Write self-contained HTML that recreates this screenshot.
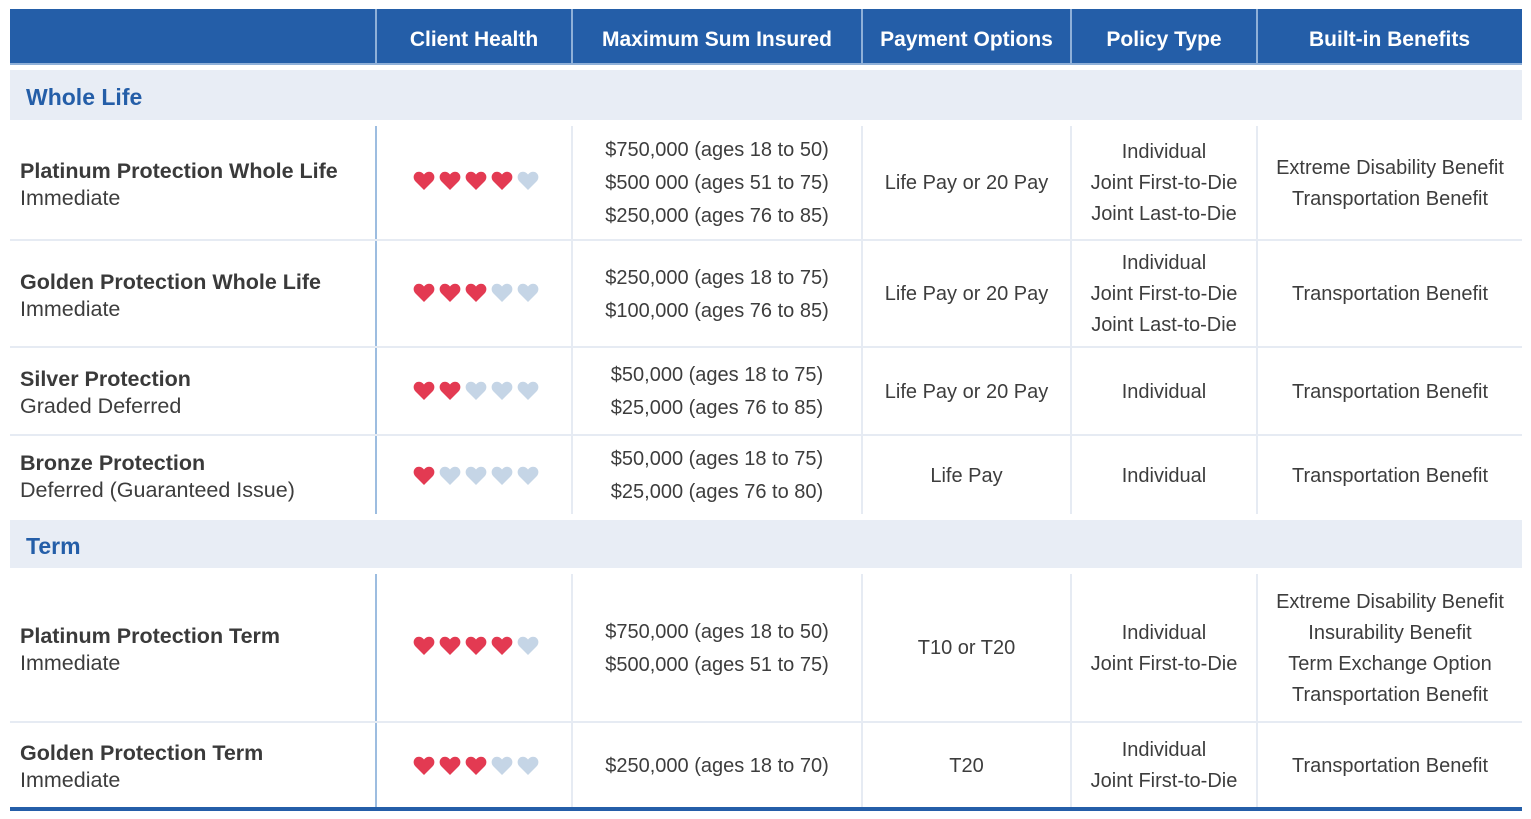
<!DOCTYPE html>
<html><head><meta charset="utf-8"><style>
body{margin:0;width:1531px;height:819px;background:#fff;position:relative;font-family:"Liberation Sans",sans-serif;color:#3d3d3d;overflow:hidden}
.a{position:absolute;box-sizing:border-box}
.hd{background:#245ea8;top:9px;height:56px;color:#fff;font-weight:bold;font-size:21px;display:flex;align-items:center;justify-content:center;border-bottom:2px solid #8fb0d8;padding-top:8px}
.band{background:#e8edf5;left:10px;width:1512px;color:#245ea8;font-weight:bold;font-size:23px;padding-left:16px;display:flex;align-items:center;padding-top:5px}
.c{display:flex;flex-direction:column;align-items:center;justify-content:center;text-align:center;font-size:20px;line-height:31px;padding-top:2px}
.c.s{line-height:33px}
.n{align-items:flex-start;text-align:left;padding-left:10px;line-height:27px;font-size:21.5px;padding-top:4px}
.n b{color:#3a3a3a}
.vl{width:2px;background:#e6ebf3}
.hl{height:2px;background:#e6ebf3;left:10px;width:1512px}
.vb{width:2px;background:#9dbde0}
.hv{width:2px;background:#8fb0d8;top:9px;height:56px}
</style></head><body>
<div class="a hd" style="left:10px;width:1512px"></div>
<div class="a hd" style="left:376px;width:196px;border:none;height:54px">Client Health</div>
<div class="a hd" style="left:572px;width:290px;border:none;height:54px">Maximum Sum Insured</div>
<div class="a hd" style="left:862px;width:209px;border:none;height:54px">Payment Options</div>
<div class="a hd" style="left:1071px;width:186px;border:none;height:54px">Policy Type</div>
<div class="a hd" style="left:1257px;width:265px;border:none;height:54px">Built-in Benefits</div>
<div class="a hv" style="left:375px"></div><div class="a hv" style="left:571px"></div><div class="a hv" style="left:861px"></div><div class="a hv" style="left:1070px"></div><div class="a hv" style="left:1256px"></div>

<div class="a band" style="top:70px;height:50px">Whole Life</div>
<div class="a band" style="top:520px;height:48px">Term</div>

<div class="a vb" style="left:375px;top:126px;height:388px"></div>
<div class="a vb" style="left:375px;top:574px;height:233px"></div>
<div class="a vl" style="left:571px;top:126px;height:388px"></div><div class="a vl" style="left:571px;top:574px;height:233px"></div>
<div class="a vl" style="left:861px;top:126px;height:388px"></div><div class="a vl" style="left:861px;top:574px;height:233px"></div>
<div class="a vl" style="left:1070px;top:126px;height:388px"></div><div class="a vl" style="left:1070px;top:574px;height:233px"></div>
<div class="a vl" style="left:1256px;top:126px;height:388px"></div><div class="a vl" style="left:1256px;top:574px;height:233px"></div>
<div class="a hl" style="top:239px"></div><div class="a hl" style="top:346px"></div><div class="a hl" style="top:434px"></div><div class="a hl" style="top:721px"></div>
<div class="a" style="left:10px;top:807px;width:1512px;height:4px;background:#245ea8"></div>

<svg width="0" height="0" style="position:absolute"><defs><path id="h" d="M11 20 L2.5 11.5 C0 9 0 5 2.5 3 C5 1 8.5 1.5 11 4.5 C13.5 1.5 17 1 19.5 3 C22 5 22 9 19.5 11.5 Z"/></defs></svg>

<div class="a c n" style="left:10px;top:126px;width:365px;height:113px"><b>Platinum Protection Whole Life</b>Immediate</div>
<div class="a c n" style="left:10px;top:241px;width:365px;height:105px"><b>Golden Protection Whole Life</b>Immediate</div>
<div class="a c n" style="left:10px;top:348px;width:365px;height:86px"><b>Silver Protection</b>Graded Deferred</div>
<div class="a c n" style="left:10px;top:436px;width:365px;height:78px"><b>Bronze Protection</b>Deferred (Guaranteed Issue)</div>
<div class="a c n" style="left:10px;top:574px;width:365px;height:147px"><b>Platinum Protection Term</b>Immediate</div>
<div class="a c n" style="left:10px;top:723px;width:365px;height:84px"><b>Golden Protection Term</b>Immediate</div>

<svg class="a" style="left:0;top:0" width="1531" height="819">
<g fill="#e33a52">
<use href="#h" x="413" y="170"/><use href="#h" x="439" y="170"/><use href="#h" x="465" y="170"/><use href="#h" x="491" y="170"/>
<use href="#h" x="413" y="282"/><use href="#h" x="439" y="282"/><use href="#h" x="465" y="282"/>
<use href="#h" x="413" y="380"/><use href="#h" x="439" y="380"/>
<use href="#h" x="413" y="465"/>
<use href="#h" x="413" y="635"/><use href="#h" x="439" y="635"/><use href="#h" x="465" y="635"/><use href="#h" x="491" y="635"/>
<use href="#h" x="413" y="755"/><use href="#h" x="439" y="755"/><use href="#h" x="465" y="755"/>
</g>
<g fill="#c5d5e6">
<use href="#h" x="517" y="170"/>
<use href="#h" x="491" y="282"/><use href="#h" x="517" y="282"/>
<use href="#h" x="465" y="380"/><use href="#h" x="491" y="380"/><use href="#h" x="517" y="380"/>
<use href="#h" x="439" y="465"/><use href="#h" x="465" y="465"/><use href="#h" x="491" y="465"/><use href="#h" x="517" y="465"/>
<use href="#h" x="517" y="635"/>
<use href="#h" x="491" y="755"/><use href="#h" x="517" y="755"/>
</g>
</svg>

<div class="a c s" style="left:573px;top:126px;width:288px;height:113px"><div>$750,000 (ages 18 to 50)</div><div>$500 000 (ages 51 to 75)</div><div>$250,000 (ages 76 to 85)</div></div>
<div class="a c s" style="left:573px;top:241px;width:288px;height:105px"><div>$250,000 (ages 18 to 75)</div><div>$100,000 (ages 76 to 85)</div></div>
<div class="a c s" style="left:573px;top:348px;width:288px;height:86px"><div>$50,000 (ages 18 to 75)</div><div>$25,000 (ages 76 to 85)</div></div>
<div class="a c s" style="left:573px;top:436px;width:288px;height:78px"><div>$50,000 (ages 18 to 75)</div><div>$25,000 (ages 76 to 80)</div></div>
<div class="a c s" style="left:573px;top:574px;width:288px;height:147px"><div>$750,000 (ages 18 to 50)</div><div>$500,000 (ages 51 to 75)</div></div>
<div class="a c s" style="left:573px;top:723px;width:288px;height:84px"><div>$250,000 (ages 18 to 70)</div></div>

<div class="a c" style="left:863px;top:126px;width:207px;height:113px">Life Pay or 20 Pay</div>
<div class="a c" style="left:863px;top:241px;width:207px;height:105px">Life Pay or 20 Pay</div>
<div class="a c" style="left:863px;top:348px;width:207px;height:86px">Life Pay or 20 Pay</div>
<div class="a c" style="left:863px;top:436px;width:207px;height:78px">Life Pay</div>
<div class="a c" style="left:863px;top:574px;width:207px;height:147px">T10 or T20</div>
<div class="a c" style="left:863px;top:723px;width:207px;height:84px">T20</div>

<div class="a c" style="left:1072px;top:126px;width:184px;height:113px"><div>Individual</div><div>Joint First-to-Die</div><div>Joint Last-to-Die</div></div>
<div class="a c" style="left:1072px;top:241px;width:184px;height:105px"><div>Individual</div><div>Joint First-to-Die</div><div>Joint Last-to-Die</div></div>
<div class="a c" style="left:1072px;top:348px;width:184px;height:86px">Individual</div>
<div class="a c" style="left:1072px;top:436px;width:184px;height:78px">Individual</div>
<div class="a c" style="left:1072px;top:574px;width:184px;height:147px"><div>Individual</div><div>Joint First-to-Die</div></div>
<div class="a c" style="left:1072px;top:723px;width:184px;height:84px"><div>Individual</div><div>Joint First-to-Die</div></div>

<div class="a c" style="left:1258px;top:126px;width:264px;height:113px"><div>Extreme Disability Benefit</div><div>Transportation Benefit</div></div>
<div class="a c" style="left:1258px;top:241px;width:264px;height:105px">Transportation Benefit</div>
<div class="a c" style="left:1258px;top:348px;width:264px;height:86px">Transportation Benefit</div>
<div class="a c" style="left:1258px;top:436px;width:264px;height:78px">Transportation Benefit</div>
<div class="a c" style="left:1258px;top:574px;width:264px;height:147px"><div>Extreme Disability Benefit</div><div>Insurability Benefit</div><div>Term Exchange Option</div><div>Transportation Benefit</div></div>
<div class="a c" style="left:1258px;top:723px;width:264px;height:84px">Transportation Benefit</div>
</body></html>
